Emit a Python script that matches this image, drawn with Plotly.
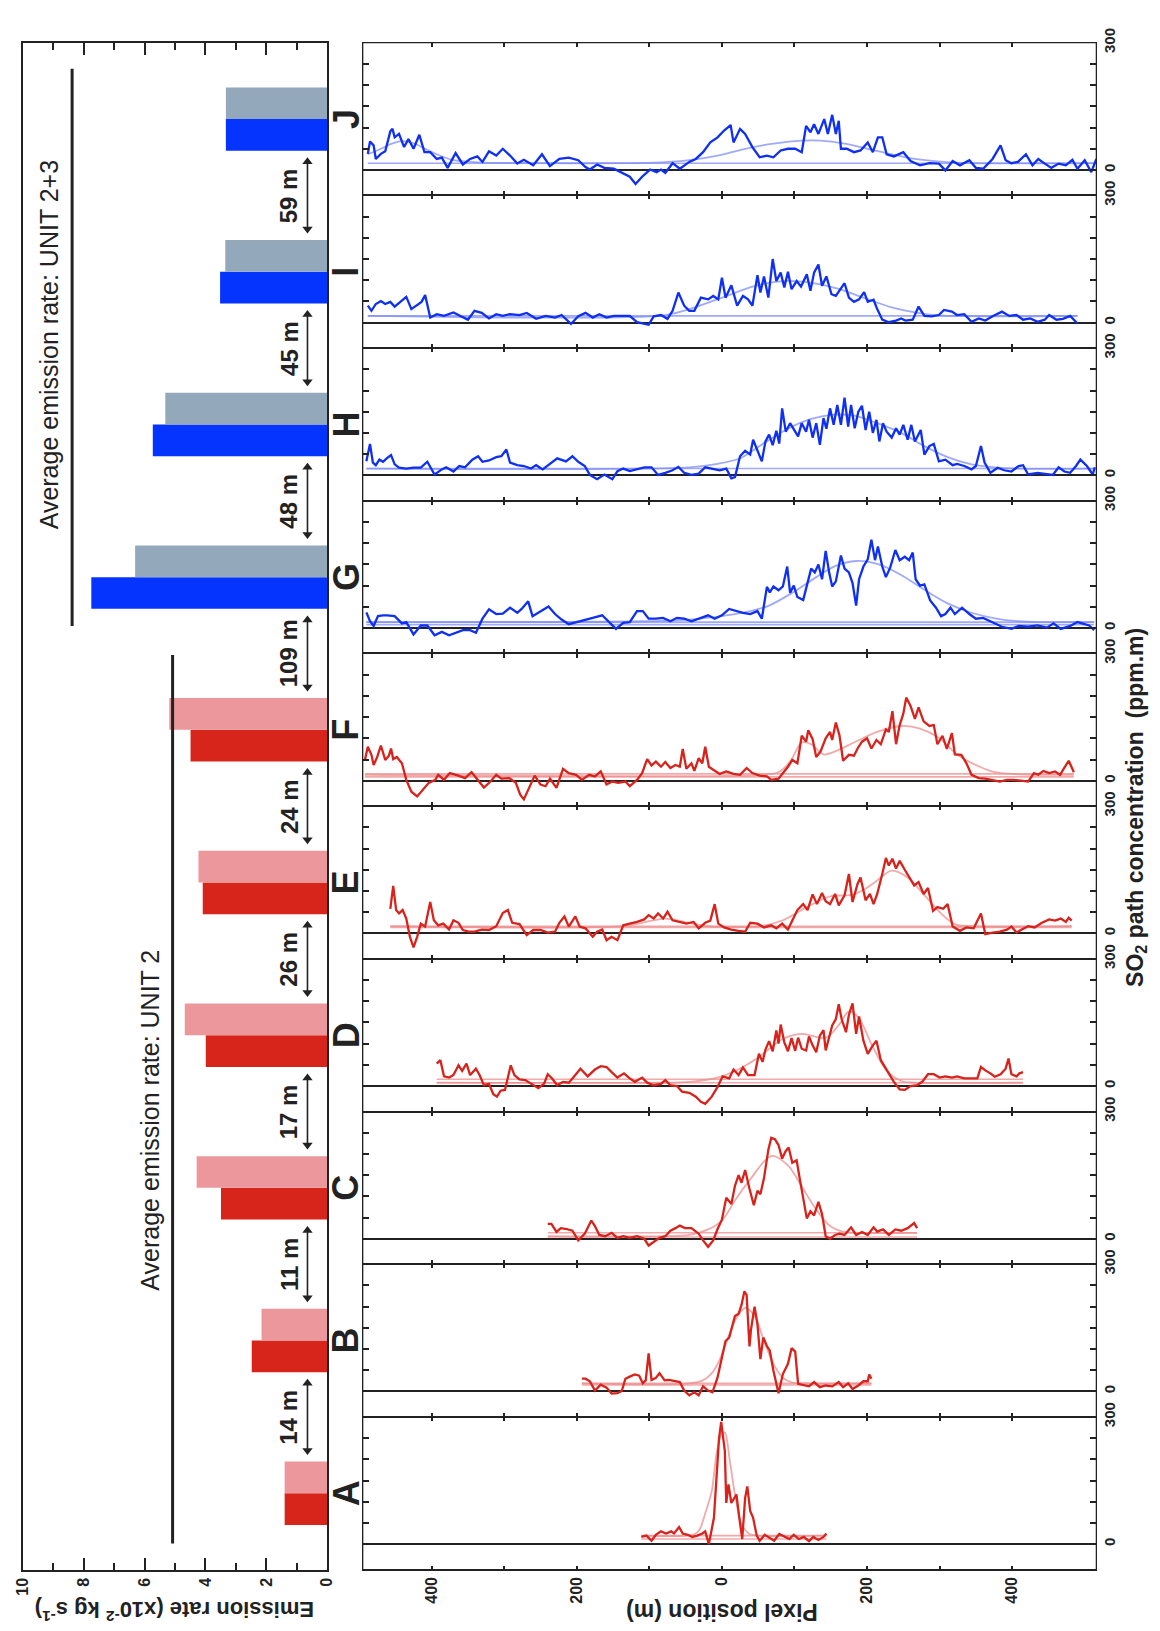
import plotly.graph_objects as go

W, H = 1160, 1631
FONT = "Liberation Sans, Arial, sans-serif"

# ---------------- emission rates (x10^-2 kg/s) ----------------
sites = ['A', 'B', 'C', 'D', 'E', 'F', 'G', 'H', 'I', 'J']
rate_dark = [1.40, 2.48, 3.49, 3.99, 4.09, 4.49, 7.75, 5.73, 3.52, 3.33]
rate_light = [1.40, 2.16, 4.29, 4.68, 4.23, 5.19, 6.31, 5.32, 3.35, 3.33]
gap_labels = ['14 m', '11 m', '17 m', '26 m', '24 m', '109 m', '48 m', '45 m', '59 m']
avg_unit2 = 5.08
avg_unit23 = 8.38

# ---------------- SO2 profiles: pixel position (m) vs path concentration (ppm.m) ----------------
a_x = [-111, -104, -97, -91, -84, -77, -70, -66, -59, -54, -47, -41, -34, -27, -23, -18, -11, -7, -4, -1,
       4, 6, 9, 13, 20, 24, 28, 32, 35, 39, 43, 48, 52, 59, 65, 72, 79, 86, 93, 99,
       106, 113, 120, 126, 133, 140, 144]
a_y = [17, 20, 8, 22, 30, 25, 30, 25, 40, 25, 22, 17, 20, 25, 30, 0, 62, 156, 249, 288,
       220, 97, 141, 97, 117, 62, 12, 109, 136, 78, 62, 20, 8, 22, 15, 8, 24, 17, 12, 22,
       12, 17, 7, 17, 10, 17, 25]
a_fit_x = [-111, -41, -32, -22, -14, -7, 0, 4, 11, 18, 27, 38, 50, 144]
a_fit_y = [20, 22, 31, 78, 125, 218, 261, 263, 195, 117, 47, 24, 20, 20]
a_base = [20, 12]

b_x = [-193, -188, -182, -175, -167, -159, -152, -144, -138, -133, -127, -120, -114, -109, -105, -101, -97, -91, -86, -79,
       -73, -66, -58, -52, -45, -38, -32, -26, -19, -13, -6, 0, 5, 10, 13, 18, 23, 27, 31, 34,
       38, 40, 45, 49, 53, 57, 62, 66, 71, 78, 84, 91, 96, 101, 105, 114, 120, 127, 135, 143,
       152, 161, 167, 174, 180, 188, 195, 201, 203, 206]
b_y = [30, 30, 24, 2, 16, 9, -5, -4, 1, 30, 35, 40, 37, 19, 26, 90, 27, 32, 43, 26,
       27, 24, 22, 2, -9, -2, -9, 12, 2, -2, 33, 80, 119, 127, 146, 178, 183, 204, 236, 228,
       106, 145, 200, 158, 76, 127, 107, 96, 49, -4, 41, 65, 102, 94, 18, 14, 12, 22, 10, 14,
       12, 22, 10, 19, 6, 14, 24, 24, 40, 30]
b_fit_x = [-193, -45, -26, -13, -3, 6, 19, 32, 45, 58, 71, 84, 97, 117, 206]
b_fit_y = [19, 19, 26, 45, 75, 115, 170, 197, 178, 119, 65, 32, 21, 19, 19]
b_base = [19, 15]

c_x = [-240, -235, -228, -222, -214, -206, -198, -189, -180, -175, -169, -161, -152, -144, -136, -127, -117, -107, -101, -94,
       -86, -78, -71, -64, -58, -51, -42, -32, -26, -19, -12, -6, 0, 6, 13, 18, 23, 27, 32, 38,
       44, 49, 53, 58, 64, 68, 73, 78, 83, 88, 92, 97, 103, 107, 112, 117, 122, 127, 133, 138,
       143, 149, 156, 162, 169, 178, 185, 193, 201, 209, 214, 222, 230, 239, 247, 256, 265, 269]
c_y = [35, 35, 16, 25, 23, 19, -4, 12, 43, 30, 9, 6, 14, 2, 6, 2, 6, 0, -16, -8,
       2, 6, 19, 25, 31, 25, 25, 12, -4, -19, -4, 23, 45, 97, 82, 125, 150, 132, 162, 118,
       79, 113, 105, 143, 210, 238, 235, 221, 189, 207, 215, 179, 185, 144, 97, 48, 65, 55, 87, 58,
       6, 0, 9, 12, 9, 27, 9, 16, 9, 27, 17, 22, 9, 22, 19, 25, 37, 25]
c_fit_x = [-240, -78, -45, -19, 0, 19, 39, 68, 91, 110, 130, 149, 169, 188, 269]
c_fit_y = [6, 6, 9, 22, 43, 93, 140, 195, 173, 123, 69, 30, 16, 14, 14]
c_base = [14, 4]

d_x = [-393, -388, -383, -376, -370, -363, -358, -352, -347, -339, -334, -328, -321, -315, -310, -305, -299, -291, -286, -279,
       -271, -263, -253, -245, -240, -234, -227, -219, -211, -204, -195, -185, -175, -167, -159, -152, -144, -135, -127, -120,
       -110, -103, -94, -84, -78, -71, -62, -55, -45, -36, -29, -23, -14, -6, 1, 10, 16, 23, 29, 36,
       45, 51, 56, 60, 65, 70, 75, 78, 81, 86, 91, 96, 101, 105, 110, 116, 120, 125, 130, 135,
       140, 143, 148, 152, 157, 161, 165, 171, 175, 180, 185, 189, 195, 201, 208, 213, 219, 227, 237, 245,
       252, 260, 269, 276, 284, 292, 300, 308, 317, 324, 334, 344, 352, 357, 363, 370, 376, 384, 391, 395,
       399, 406, 410, 415]
d_y = [53, 61, 23, 20, 26, 49, 36, 53, 26, 41, 26, 2, 5, -19, -25, -11, -9, 49, 26, 16,
       14, 6, -5, 6, 28, 18, 2, 10, 8, 22, 41, 23, 39, 47, 45, 33, 20, 30, 18, 10,
       20, 8, 2, 5, 14, 2, 0, -13, -16, -25, -37, -42, -25, -2, 23, 18, 39, 26, 44, 26,
       26, 76, 57, 86, 106, 82, 131, 100, 145, 103, 82, 113, 83, 114, 88, 84, 117, 96, 80, 119,
       132, 84, 117, 143, 158, 193, 158, 127, 168, 195, 123, 164, 107, 76, 96, 107, 61, 37, 10, -8,
       -9, 0, 2, 10, 28, 28, 20, 23, 20, 23, 18, 18, 18, 45, 37, 30, 22, 28, 41, 65,
       28, 23, 30, 33]
d_fit_x = [-393, -84, -45, -6, 19, 52, 84, 110, 143, 162, 175, 188, 208, 227, 247, 266, 415]
d_fit_y = [8, 8, 10, 20, 36, 70, 111, 123, 114, 146, 176, 162, 92, 37, 12, 8, 8]
d_base = [16, 8]

e_x = [-457, -453, -449, -445, -440, -435, -430, -425, -420, -415, -409, -402, -397, -391, -384, -376, -370, -363, -357, -349,
       -341, -331, -321, -311, -302, -295, -289, -279, -269, -260, -250, -240, -230, -224, -217, -211, -202, -196, -188, -178,
       -172, -165, -159, -152, -144, -136, -127, -117, -107, -101, -94, -88, -81, -75, -68, -58, -49, -39, -32, -23,
       -16, -10, -5, 3, 13, 23, 32, 39, 49, 58, 68, 75, 83, 91, 99, 104, 112, 118, 125, 131,
       138, 143, 149, 156, 161, 169, 175, 180, 187, 191, 198, 204, 209, 214, 221, 226, 230, 235, 240, 245,
       252, 258, 265, 271, 278, 284, 291, 297, 305, 311, 318, 328, 337, 347, 357, 363, 373, 383, 393, 399,
       406, 412, 422, 431, 441, 451, 459, 467, 474, 478, 482]
e_y = [58, 112, 55, 47, 55, 35, -8, -33, -8, 23, 16, 74, 31, 19, 23, 9, 31, 25, 8, 4,
       4, 9, 8, 17, 48, 55, 25, 22, -4, 8, 8, 2, 4, 25, 40, 16, 40, 16, 12, -8,
       4, 9, -16, -8, -16, 19, 23, 27, 33, 43, 35, 47, 35, 51, 31, 27, 23, 27, 12, 25,
       30, 69, 23, 14, 9, 6, 4, 25, 23, 14, 19, 12, 23, 9, 35, 55, 69, 55, 92, 69,
       95, 76, 69, 93, 66, 90, 140, 74, 117, 132, 78, 93, 69, 93, 140, 178, 160, 176, 153, 171,
       150, 132, 113, 121, 93, 107, 53, 62, 58, 69, 16, 6, 14, 12, 47, -2, 2, 4, 9, 16,
       2, 8, 17, 14, 25, 33, 30, 35, 27, 37, 30]
e_fit_x = [-457, -136, -110, -78, -45, -19, 52, 84, 117, 149, 182, 208, 234, 256, 279, 302, 321, 344, 482]
e_fit_y = [17, 17, 25, 35, 25, 17, 17, 31, 62, 87, 92, 117, 148, 132, 90, 47, 22, 17, 17]
e_base = [17, 14]

f_x = [-492, -488, -483, -480, -475, -470, -464, -459, -456, -453, -448, -441, -435, -428, -420, -412, -404, -395, -391, -383,
       -375, -363, -354, -345, -337, -328, -319, -311, -304, -293, -284, -278, -273, -266, -258, -250, -243, -237, -228, -219,
       -211, -201, -193, -183, -175, -167, -159, -151, -143, -133, -127, -117, -110, -103, -97, -91, -84, -78, -71, -64,
       -58, -54, -49, -42, -38, -32, -27, -23, -18, -12, -3, 6, 16, 25, 34, 42, 52, 62, 68, 78,
       84, 91, 97, 104, 110, 116, 119, 125, 130, 136, 143, 149, 152, 157, 162, 167, 175, 182, 187, 193,
       200, 206, 213, 219, 226, 230, 235, 240, 245, 250, 254, 260, 266, 271, 278, 286, 292, 297, 304, 310,
       317, 321, 330, 337, 344, 354, 363, 373, 383, 393, 402, 412, 422, 430, 436, 443, 451, 459, 466, 472,
       478, 485]
f_y = [49, 80, 61, 37, 56, 83, 49, 59, 76, 51, 56, 41, 2, -26, -37, -21, -5, 2, 14, 2,
       18, 12, 6, 20, 2, -16, -2, 14, 5, 6, -5, -33, -44, -16, 12, -9, -13, 5, -17, 28,
       18, 14, 2, 14, 10, 22, -9, -2, -5, -2, -13, 2, 18, 51, 36, 45, 33, 44, 30, 37,
       33, 75, 28, 41, 23, 53, 41, 80, 33, 26, 16, 22, 16, 14, 30, 18, 12, 10, 2, 5,
       18, 33, 49, 41, 106, 92, 119, 98, 56, 69, 100, 115, 96, 137, 107, 47, 61, 59, 76, 92,
       100, 76, 96, 86, 121, 115, 164, 86, 131, 158, 196, 176, 146, 173, 140, 129, 131, 86, 106, 75,
       112, 62, 61, 41, 14, 6, 5, 2, -2, 2, 2, 0, -2, 18, 14, 23, 18, 22, 14, 31,
       47, 20]
f_fit_x = [-492, 52, 78, 94, 110, 123, 140, 156, 182, 214, 247, 273, 299, 324, 350, 376, 409, 485]
f_fit_y = [14, 14, 20, 45, 90, 86, 62, 69, 90, 115, 129, 123, 101, 62, 37, 20, 15, 14]
f_base = [16, 9]

g_x = [-490, -485, -480, -474, -467, -461, -451, -441, -435, -425, -415, -406, -396, -386, -376, -367, -357, -347, -339, -330,
       -321, -311, -302, -292, -282, -276, -267, -261, -253, -245, -239, -230, -221, -211, -201, -189, -178, -165, -156, -146,
       -136, -127, -117, -109, -101, -91, -81, -71, -62, -52, -42, -32, -19, -10, 0, 10, 19, 29, 39, 49,
       55, 62, 66, 71, 78, 84, 90, 94, 99, 104, 112, 118, 123, 128, 133, 138, 143, 148, 152, 157,
       164, 169, 175, 180, 185, 189, 195, 201, 206, 211, 215, 221, 226, 232, 239, 245, 252, 258, 263, 267,
       273, 279, 287, 295, 302, 308, 315, 321, 331, 341, 350, 360, 373, 386, 399, 409, 422, 435, 448, 457,
       467, 480, 490, 500, 506, 513]
g_y = [37, 16, 5, 28, 30, 30, 28, 11, 14, -15, 6, 6, -17, -9, -17, -11, -5, -5, -11, 22,
       44, 33, 34, 48, 36, 45, 63, 28, 36, 44, 51, 33, 20, 9, 14, 20, 24, 30, 14, -2,
       12, 14, 40, 40, 22, 22, 24, 16, 24, 22, 16, 22, 30, 22, 30, 45, 40, 36, 33, 40,
       22, 97, 84, 98, 89, 98, 145, 83, 100, 73, 66, 110, 140, 131, 150, 115, 182, 129, 98, 110,
       171, 140, 131, 106, 53, 115, 145, 162, 208, 160, 192, 145, 120, 143, 184, 160, 168, 160, 178, 115,
       100, 103, 65, 48, 28, 33, 48, 33, 48, 33, 22, 24, 14, 3, -2, 5, 3, 6, 1, 11,
       -2, 5, 14, 9, 6, -5]
g_fit_x = [-490, -110, -45, 6, 39, 65, 97, 130, 156, 185, 214, 247, 279, 311, 344, 376, 409, 441, 513]
g_fit_y = [14, 16, 20, 30, 40, 53, 83, 120, 146, 158, 151, 125, 90, 58, 36, 23, 16, 14, 14]
g_base = [14, 8]

h_x = [-490, -485, -481, -477, -472, -467, -462, -456, -451, -445, -435, -425, -415, -406, -396, -386, -380, -370, -362, -354,
       -344, -336, -330, -321, -311, -304, -297, -292, -282, -273, -263, -256, -247, -237, -227, -215, -206, -198, -189, -182,
       -172, -162, -151, -144, -136, -127, -117, -107, -97, -88, -78, -68, -60, -52, -42, -32, -23, -12, -3, 6,
       13, 18, 25, 32, 39, 43, 49, 55, 60, 65, 70, 75, 79, 83, 88, 94, 101, 105, 110, 116,
       120, 125, 130, 135, 140, 144, 149, 154, 159, 164, 169, 174, 178, 183, 188, 193, 198, 203, 208, 213,
       217, 222, 227, 234, 240, 245, 250, 256, 261, 266, 274, 279, 286, 292, 299, 308, 318, 324, 334, 344,
       350, 357, 362, 370, 380, 389, 399, 409, 415, 422, 435, 448, 456, 464, 472, 480, 488, 494, 503, 511,
       514]
h_y = [33, 74, 30, 24, 37, 32, 40, 48, 26, 18, 16, 18, 18, 32, 2, 14, 19, 9, 22, 19,
       37, 45, 32, 35, 43, 45, 61, 30, 24, 22, 16, 24, 14, 27, 40, 33, 45, 32, 22, 1,
       -9, 2, -9, 10, 16, 10, 14, 19, 19, 1, 6, 12, 20, 6, 1, 4, 19, 16, 12, 16,
       -7, -4, 45, 58, 49, 84, 57, 33, 80, 96, 71, 105, 75, 158, 103, 123, 103, 92, 123, 103,
       131, 89, 123, 72, 135, 110, 158, 119, 166, 119, 183, 115, 166, 111, 150, 164, 107, 150, 100, 131,
       80, 123, 103, 89, 111, 96, 119, 84, 119, 80, 107, 49, 69, 74, 33, 37, 24, 27, 22, 14,
       22, 69, 30, 6, 18, 12, 9, 22, 24, 2, 6, 4, 1, 19, 9, 6, 22, 37, 22, 2,
       19]
h_fit_x = [-490, -45, -6, 26, 58, 91, 123, 156, 182, 214, 247, 279, 311, 344, 376, 409, 514]
h_fit_y = [16, 19, 27, 41, 76, 110, 133, 143, 141, 123, 100, 69, 43, 26, 19, 16, 16]
h_base = [16]

i_x = [-488, -483, -477, -470, -464, -457, -451, -445, -435, -428, -420, -414, -409, -402, -393, -383, -370, -360, -350, -341,
       -331, -321, -311, -302, -292, -279, -269, -256, -243, -230, -221, -208, -198, -188, -178, -169, -159, -149, -136, -127,
       -117, -107, -101, -94, -84, -75, -68, -60, -52, -45, -38, -29, -19, -12, -5, 0, 5, 13, 21, 29,
       36, 42, 49, 53, 58, 64, 70, 75, 81, 86, 91, 96, 103, 109, 117, 122, 127, 133, 138, 144,
       151, 157, 164, 169, 175, 182, 189, 196, 201, 209, 214, 221, 230, 240, 247, 253, 263, 271, 279, 289,
       299, 306, 317, 324, 334, 344, 354, 363, 373, 386, 396, 406, 415, 425, 435, 445, 451, 461, 470, 480,
       490]
i_y = [40, 28, 44, 51, 44, 49, 38, 47, 61, 32, 41, 49, 65, 12, 20, 16, 24, 16, 7, 28,
       23, 10, 20, 16, 20, 18, 23, 9, 16, 12, 18, -3, 15, 23, 12, 20, 12, 16, 15, 16,
       1, -2, -5, 15, 18, 9, 28, 71, 40, 28, 28, 59, 55, 63, 55, 106, 59, 88, 40, 63,
       55, 40, 112, 71, 109, 59, 150, 98, 118, 83, 120, 79, 98, 85, 114, 75, 118, 137, 87, 109,
       67, 63, 79, 93, 59, 49, 55, 72, 49, 54, 32, 7, 1, 5, 10, 5, 7, 38, 16, 15,
       18, 30, 26, 18, 20, 2, 10, 5, 15, 26, 16, 18, 7, 10, 2, 7, 18, 7, 9, 16,
       -2]
i_fit_x = [-488, -78, -45, 0, 45, 84, 123, 162, 201, 234, 266, 299, 490]
i_fit_y = [16, 18, 32, 59, 86, 98, 94, 79, 55, 36, 24, 17, 16]
i_base = [16]

j_x = [-488, -485, -480, -477, -470, -464, -457, -454, -451, -445, -438, -432, -425, -417, -410, -402, -393, -386, -378, -367,
       -357, -347, -337, -330, -321, -311, -302, -292, -282, -273, -260, -248, -237, -224, -211, -198, -188, -182, -172, -162,
       -149, -136, -127, -119, -110, -99, -90, -84, -78, -68, -58, -45, -36, -26, -16, -6, 3, 12, 16, 25,
       32, 42, 52, 62, 71, 81, 91, 101, 110, 116, 122, 127, 133, 141, 146, 152, 157, 161, 164, 172,
       182, 191, 201, 208, 215, 221, 227, 237, 250, 260, 273, 286, 299, 308, 318, 328, 341, 350, 360, 373,
       384, 391, 399, 408, 419, 428, 436, 445, 454, 464, 474, 483, 490, 500, 509, 516]
j_y = [38, 67, 58, 26, 38, 44, 91, 97, 77, 85, 54, 73, 50, 83, 42, 42, 26, 29, 5, 40,
       13, 26, 32, 19, 44, 34, 50, 34, 15, 24, 11, 37, 9, 26, 29, 23, 7, 1, 13, 5,
       3, -9, -16, -33, -16, 1, -5, 1, -7, 16, 3, 19, 26, 42, 65, 77, 93, 106, 65, 97,
       85, 54, 30, 34, 30, 46, 50, 50, 42, 104, 89, 108, 85, 120, 85, 130, 85, 116, 50, 50,
       42, 46, 65, 42, 77, 77, 37, 32, 42, 21, 11, 16, 15, -1, 21, 11, 23, 5, 3, 26,
       58, 23, 16, 19, 37, 11, 26, 15, 5, 15, 11, 24, 3, 23, -5, 26]
j_fit_x = [-488, -470, -455, -441, -425, -409, -393, -370, -337, -250, -84, -45, -6, 32, 71, 110, 136, 169, 201,
           234, 266, 305, 344, 516]
j_fit_y = [37, 50, 62, 68, 63, 50, 37, 23, 18, 16, 18, 23, 34, 50, 62, 69, 69, 62, 50, 37, 26, 19, 16, 16]
j_base = [16]

# ---------------- styling ----------------
RED_DARK, RED_LIGHT = '#d8251b', '#ec979b'
BLUE_DARK, BLUE_LIGHT = '#0533ff', '#93a8bb'
RED_LINE, RED_FIT = '#d7231c', 'rgba(238,140,142,0.75)'
BLUE_LINE, BLUE_FIT = '#0f30f2', 'rgba(130,142,245,0.75)'
INK = '#222222'

profiles = [  # bottom (A) to top (J)
    (a_x, a_y, a_fit_x, a_fit_y, a_base, 'red'),
    (b_x, b_y, b_fit_x, b_fit_y, b_base, 'red'),
    (c_x, c_y, c_fit_x, c_fit_y, c_base, 'red'),
    (d_x, d_y, d_fit_x, d_fit_y, d_base, 'red'),
    (e_x, e_y, e_fit_x, e_fit_y, e_base, 'red'),
    (f_x, f_y, f_fit_x, f_fit_y, f_base, 'red'),
    (g_x, g_y, g_fit_x, g_fit_y, g_base, 'blue'),
    (h_x, h_y, h_fit_x, h_fit_y, h_base, 'blue'),
    (i_x, i_y, i_fit_x, i_fit_y, i_base, 'blue'),
    (j_x, j_y, j_fit_x, j_fit_y, j_base, 'blue'),
]

# page geometry (pixels)
TOP, BOT = 28, 1569
BAR_L, BAR_R = 14, 323
PRO_L, PRO_R = 359, 1103.5
STRIP = (BOT - TOP) / 10.0
# distance arrows, in the bar panel's own units (rate, site slot)
ARROW_RATE, ARROW_HALF = 0.65, 0.22


def px(xp):
    return xp / W


def py(yp):
    return 1 - yp / H


site_slot = list(range(len(sites)))  # one slot per site, A at the bottom

fig = go.Figure()

# grouped horizontal bars: dark (lower) and light (upper) per site
n_red = 6
dark_cols = [RED_DARK] * n_red + [BLUE_DARK] * (len(sites) - n_red)
light_cols = [RED_LIGHT] * n_red + [BLUE_LIGHT] * (len(sites) - n_red)
fig.add_trace(go.Bar(y=site_slot, x=rate_dark, orientation='h', marker=dict(color=dark_cols, line=dict(width=0)),
                     xaxis='x', yaxis='y'))
fig.add_trace(go.Bar(y=site_slot, x=rate_light, orientation='h', marker=dict(color=light_cols, line=dict(width=0)),
                     xaxis='x', yaxis='y'))

# double-headed arrows between neighbouring sections
for k in range(len(gap_labels)):
    mid = k + 0.5
    fig.add_trace(go.Scatter(x=[ARROW_RATE, ARROW_RATE], y=[mid - ARROW_HALF, mid + ARROW_HALF],
                             mode='lines+markers', line=dict(color=INK, width=1.6),
                             marker=dict(symbol=['triangle-down', 'triangle-up'], size=9, color=INK),
                             xaxis='x', yaxis='y', hoverinfo='skip', cliponaxis=False))

layout = dict(
    width=W, height=H, margin=dict(l=0, r=0, t=0, b=0),
    paper_bgcolor='white', plot_bgcolor='white', showlegend=False,
    barmode='group', bargap=1 - 64 / STRIP, bargroupgap=0,
    font=dict(family=FONT, color=INK),
    xaxis=dict(domain=[px(BAR_L), px(BAR_R)], range=[10, 0], anchor='y',
               tickvals=[0, 2, 4, 6, 8, 10], ticks='inside', ticklen=12, tickwidth=1.6, tickcolor=INK,
               minor=dict(tickvals=[1, 3, 5, 7, 9], ticks='inside', ticklen=7, tickwidth=1.6, tickcolor=INK),
               showline=True, linewidth=2, linecolor=INK, mirror='ticks',
               tickangle=-90, tickfont=dict(size=16, family=FONT, weight='bold', color=INK),
               showgrid=False, zeroline=False, fixedrange=True),
    yaxis=dict(domain=[py(BOT), py(TOP)], range=[-0.5, 9.5], anchor='x', type='linear',
               showticklabels=False, ticks='', showline=True, linewidth=2, linecolor=INK, mirror=True,
               showgrid=False, zeroline=False),
)

for k, (xs, ys, fx, fy, bases, tone) in enumerate(profiles):
    n = k + 2
    xa, ya = 'x%d' % n, 'y%d' % n
    line_col = RED_LINE if tone == 'red' else BLUE_LINE
    fit_col = RED_FIT if tone == 'red' else BLUE_FIT
    for b in bases:
        fig.add_trace(go.Scatter(x=[xs[0], xs[-1]], y=[b, b], mode='lines',
                                 line=dict(color=fit_col, width=1.6), xaxis=xa, yaxis=ya, hoverinfo='skip'))
    fig.add_trace(go.Scatter(x=fx, y=fy, mode='lines',
                             line=dict(color=fit_col, width=1.8, shape='spline', smoothing=0.9),
                             xaxis=xa, yaxis=ya, hoverinfo='skip'))
    fig.add_trace(go.Scatter(x=xs, y=ys, mode='lines', line=dict(color=line_col, width=2.3),
                             xaxis=xa, yaxis=ya))

    top_px = BOT - (k + 1) * STRIP
    bot_px = BOT - k * STRIP
    layout['xaxis%d' % n] = dict(
        domain=[px(PRO_L), px(PRO_R)], range=[-495, 516], anchor=ya,
        tickvals=[-400, -200, 0, 200, 400], ticktext=['400', '200', '0', '200', '400'],
        minor=dict(tickvals=[-300, -100, 100, 300], ticks='inside', ticklen=4, tickwidth=1.6, tickcolor=INK),
        showticklabels=(k == 0), ticks='inside', ticklen=4, tickwidth=1.6, tickcolor=INK,
        tickangle=-90, tickfont=dict(size=16, family=FONT, weight='bold', color=INK),
        showline=True, linewidth=1.1, linecolor=INK, mirror='ticks',
        showgrid=False, zeroline=False)
    layout['yaxis%d' % n] = dict(
        domain=[py(bot_px), py(top_px)], range=[-60, 300], anchor=xa, side='right',
        tickvals=[0, 300], ticktext=['0', '300'],
        minor=dict(tickvals=[50, 100, 150, 200, 250], ticks='inside', ticklen=6, tickwidth=1.6, tickcolor=INK),
        ticks='inside', ticklen=6, tickwidth=1.6, tickcolor=INK,
        tickangle=-90, tickfont=dict(size=15, family=FONT, weight='bold', color=INK),
        showline=True, linewidth=1.1, linecolor=INK, mirror='ticks',
        showgrid=False, zeroline=True, zerolinecolor=INK, zerolinewidth=2)

fig.update_layout(**layout)

# average emission rate lines and outer frame of the profile panel
shapes = [
    dict(type='line', xref='x', yref='y', x0=avg_unit2, x1=avg_unit2, y0=-0.33, y1=5.49,
         line=dict(color=INK, width=3)),
    dict(type='line', xref='x', yref='y', x0=avg_unit23, x1=avg_unit23, y0=5.68, y1=9.33,
         line=dict(color=INK, width=3)),
    dict(type='rect', xref='paper', yref='paper', x0=px(PRO_L), x1=px(PRO_R), y0=py(BOT), y1=py(TOP),
         line=dict(color=INK, width=1.2)),
]

annotations = []
# site letters
for k, s in enumerate(sites):
    cy = BOT - (k + 0.5) * STRIP
    annotations.append(dict(xref='paper', yref='paper', x=px(342), y=py(cy), text='<b>%s</b>' % s,
                            showarrow=False, textangle=-90, xanchor='center', yanchor='middle',
                            font=dict(size=36, family=FONT, color=INK)))
# distances between sections
for k, lab in enumerate(gap_labels):
    by = BOT - (k + 1) * STRIP
    annotations.append(dict(xref='paper', yref='paper', x=px(284), y=py(by), text='<b>%s</b>' % lab,
                            showarrow=False, textangle=-90, xanchor='center', yanchor='middle',
                            font=dict(size=24, family=FONT, color=INK)))
# unit labels
annotations.append(dict(xref='paper', yref='paper', x=px(143), y=py(1115), text='Average emission rate: UNIT 2',
                        showarrow=False, textangle=-90, xanchor='center', yanchor='middle',
                        font=dict(size=25, family=FONT, color=INK)))
annotations.append(dict(xref='paper', yref='paper', x=px(41), y=py(333), text='Average emission rate: UNIT 2+3',
                        showarrow=False, textangle=-90, xanchor='center', yanchor='middle',
                        font=dict(size=25, family=FONT, color=INK)))
# axis titles
annotations.append(dict(xref='paper', yref='paper', x=px(168), y=py(1611),
                        text='<b>Emission rate (x10<sup>-2</sup> kg s<sup>-1</sup>)</b>',
                        showarrow=False, textangle=180, xanchor='center', yanchor='middle',
                        font=dict(size=22, family=FONT, color=INK)))
annotations.append(dict(xref='paper', yref='paper', x=px(723), y=py(1612), text='<b>Pixel position (m)</b>',
                        showarrow=False, textangle=180, xanchor='center', yanchor='middle',
                        font=dict(size=23, family=FONT, color=INK)))
annotations.append(dict(xref='paper', yref='paper', x=px(1144), y=py(800),
                        text='<b>SO<sub>2</sub> path concentration  (ppm.m)</b>',
                        showarrow=False, textangle=-90, xanchor='center', yanchor='middle',
                        font=dict(size=23, family=FONT, color=INK)))

fig.update_layout(shapes=shapes, annotations=annotations)
fig.write_html("out.html")
